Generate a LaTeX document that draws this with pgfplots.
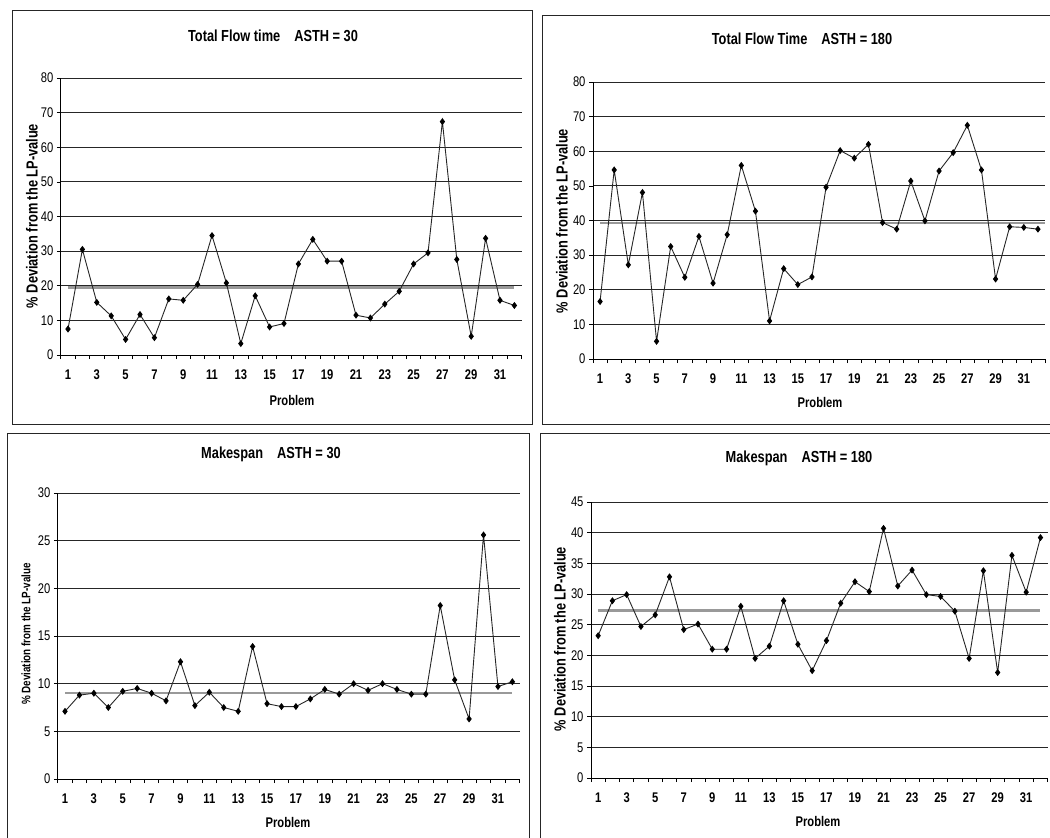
\documentclass[border=0pt]{standalone}
\usepackage{pgfplots}
\pgfplotsset{compat=1.18}
\usepackage{fontspec}
\setmainfont{Liberation Sans}[FakeStretch=0.8]

\pgfplotsset{
 panel/.style={
  scale only axis, xmin=0.5, xmax=32.5, clip=false,
  axis lines*=left, axis line style={-, black, line width=0.8pt},
  ymajorgrids, grid style={black!85, line width=0.8pt},
  xtick={0.5,1.5,2.5,3.5,4.5,5.5,6.5,7.5,8.5,9.5,10.5,11.5,12.5,13.5,14.5,15.5,16.5,17.5,18.5,19.5,20.5,21.5,22.5,23.5,24.5,25.5,26.5,27.5,28.5,29.5,30.5,31.5,32.5},
  xticklabels={1,,3,,5,,7,,9,,11,,13,,15,,17,,19,,21,,23,,25,,27,,29,,31,,},
  tick align=outside, major tick length=4pt,
  tick style={black, line width=0.7pt},
  yticklabel style={font=\fontsize{14}{16}\selectfont},
  xticklabel style={font=\bfseries\fontsize{14}{16}\selectfont, xshift=7.2pt, yshift=-7pt},
  /pgf/number format/assume math mode=true,
 },
 dataline/.style={black!85, line width=0.9pt, mark=diamond*, mark size=2.8pt, mark options={solid, fill=black, draw=black}},
 meanline/.style={black!40, line width=2.2pt},
}

\begin{document}
\begin{tikzpicture}[x=1pt,y=1pt]
\useasboundingbox (0,0) rectangle (1050,-838);
\clip (0,0) rectangle (1050,-838);
% panel frames
\draw[black!85, line width=0.9pt] (12,-10) rectangle (532,-424);
\draw[black!85, line width=0.9pt] (542,-15) rectangle (1070,-424);
\draw[black!85, line width=0.9pt] (7,-433) rectangle (529,-860);
\draw[black!85, line width=0.9pt] (540,-433) rectangle (1070,-860);

% titles and labels
\tikzset{ttl/.style={font=\bfseries\fontsize{16}{18}\selectfont},
         xl/.style={font=\bfseries\fontsize{14}{16}\selectfont},
         yl/.style={font=\bfseries\fontsize{16}{18}\selectfont, rotate=90}}
\node[ttl] at (273,-36) {Total Flow time\hspace{14pt}ASTH = 30};
\node[ttl] at (802,-39) {Total Flow Time\hspace{14pt}ASTH = 180};
\node[ttl] at (271,-454) {Makespan\hspace{14pt}ASTH = 30};
\node[ttl] at (799,-458) {Makespan\hspace{14pt}ASTH = 180};
\node[xl] at (292,-400) {Problem};
\node[xl] at (820,-402) {Problem};
\node[xl] at (288,-822) {Problem};
\node[xl] at (818,-821) {Problem};
\node[yl] at (32,-216) {\% Deviation from the LP-value};
\node[yl] at (562,-221) {\% Deviation from the LP-value};
\node[yl, font=\bfseries\fontsize{12.3}{14}\selectfont] at (26,-634) {\% Deviation from the LP-value};
\node[yl] at (560,-639) {\% Deviation from the LP-value};

% Panel 1
\begin{axis}[panel, at={(60.8pt,-355pt)}, anchor=south west, width=460.8pt, height=277pt,
  ymin=0, ymax=80, ytick={0,10,...,80}]
\addplot[meanline] coordinates {(1,19.5) (32,19.5)};
\addplot[dataline] coordinates {
(1,7.5) (2,30.5) (3,15.2) (4,11.3) (5,4.5) (6,11.7) (7,5.0) (8,16.2)
(9,15.8) (10,20.4) (11,34.5) (12,20.8) (13,3.3) (14,17.1) (15,8.1) (16,9.1)
(17,26.3) (18,33.4) (19,27.1) (20,27.1) (21,11.5) (22,10.7) (23,14.7) (24,18.4)
(25,26.3) (26,29.5) (27,67.4) (28,27.6) (29,5.4) (30,33.7) (31,15.8) (32,14.3)};
\end{axis}

% Panel 2
\begin{axis}[panel, at={(593pt,-359pt)}, anchor=south west, width=452pt, height=277pt,
  ymin=0, ymax=80, ytick={0,10,...,80}, xticklabel style={xshift=-0.13pt}]
\addplot[meanline] coordinates {(1,39.3) (32.5,39.3)};
\addplot[dataline] coordinates {
(1,16.6) (2,54.6) (3,27.2) (4,48.1) (5,5.1) (6,32.5) (7,23.6) (8,35.4)
(9,21.9) (10,35.9) (11,55.9) (12,42.7) (13,11.0) (14,26.1) (15,21.5) (16,23.7)
(17,49.6) (18,60.2) (19,58.0) (20,62.0) (21,39.4) (22,37.5) (23,51.4) (24,39.9)
(25,54.3) (26,59.6) (27,67.5) (28,54.6) (29,23.1) (30,38.2) (31,38.0) (32,37.5)};
\end{axis}

% Panel 3
\begin{axis}[panel, at={(57.8pt,-779pt)}, anchor=south west, width=461.8pt, height=286pt,
  ymin=0, ymax=30, ytick={0,5,...,30}]
\addplot[meanline] coordinates {(1,9.0) (32,9.0)};
\addplot[dataline] coordinates {
(1,7.1) (2,8.8) (3,9.0) (4,7.5) (5,9.2) (6,9.5) (7,9.0) (8,8.2)
(9,12.3) (10,7.7) (11,9.1) (12,7.5) (13,7.1) (14,13.9) (15,7.9) (16,7.6)
(17,7.6) (18,8.4) (19,9.4) (20,8.9) (21,10.0) (22,9.3) (23,10.0) (24,9.4)
(25,8.9) (26,8.9) (27,18.2) (28,10.4) (29,6.3) (30,25.6) (31,9.7) (32,10.2)};
\end{axis}

% Panel 4
\begin{axis}[panel, at={(591pt,-778pt)}, anchor=south west, width=456.6pt, height=276pt,
  ymin=0, ymax=45, ytick={0,5,...,45}, xticklabel style={xshift=-0.07pt}]
\addplot[meanline] coordinates {(1,27.3) (32,27.3)};
\addplot[dataline] coordinates {
(1,23.2) (2,28.9) (3,29.9) (4,24.7) (5,26.6) (6,32.8) (7,24.2) (8,25.1)
(9,21.0) (10,21.0) (11,28.0) (12,19.5) (13,21.5) (14,28.9) (15,21.8) (16,17.5)
(17,22.4) (18,28.5) (19,32.0) (20,30.4) (21,40.7) (22,31.3) (23,33.9) (24,29.9)
(25,29.6) (26,27.2) (27,19.5) (28,33.8) (29,17.2) (30,36.3) (31,30.3) (32,39.2)};
\end{axis}
\end{tikzpicture}
\end{document}
